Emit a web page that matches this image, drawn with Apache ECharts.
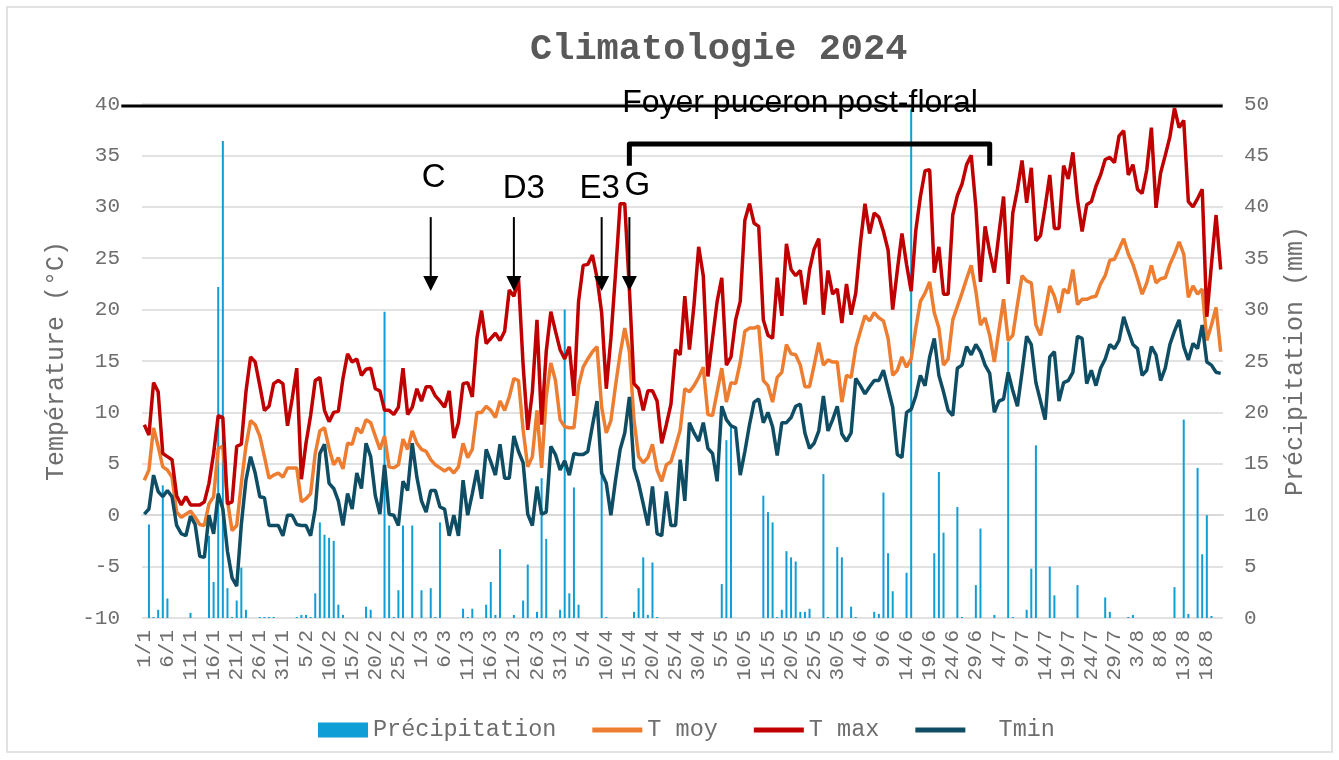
<!DOCTYPE html>
<html>
<head>
<meta charset="utf-8">
<title>Climatologie 2024</title>
<script src="https://cdn.jsdelivr.net/npm/echarts@6/dist/echarts.min.js"></script>
<style>
  html, body { margin: 0; padding: 0; background: #fff; }
  #chart { width: 1339px; height: 760px; }
</style>
</head>
<body>
<div id="chart"></div>
<script>
// jours du 1/1 au 21/8/2024
const jours = [];
for (let d = new Date(2024, 0, 1); d <= new Date(2024, 7, 21); d.setDate(d.getDate() + 1)) {
  jours.push(d.getDate() + '/' + (d.getMonth() + 1));
}

const pluie = [
  0, 9.1, 0.1, 0.8, 12.9, 1.9, 0, 0, 0, 0,
  0.5, 0, 0, 0, 8.0, 3.5, 32.2, 46.4, 2.9, 0.1,
  1.7, 4.9, 0.8, 0, 0, 0.1, 0.1, 0.1, 0.1, 0,
  0, 0, 0, 0.1, 0.3, 0.3, 0.1, 2.4, 9.3, 8.1,
  7.8, 7.5, 1.3, 0.3, 0, 0, 0, 0, 1.1, 0.8,
  0, 0, 29.8, 9.0, 0.1, 2.7, 9.0, 0, 9.0, 0,
  2.7, 0, 2.9, 0.1, 9.3, 0, 0, 0, 0, 0.9,
  0.1, 0.9, 0, 0, 1.3, 3.5, 0.3, 6.7, 0, 0,
  0.3, 0, 1.7, 5.2, 0, 0.6, 13.6, 7.7, 0, 0,
  0.8, 30.0, 2.4, 12.7, 1.3, 0, 0, 0, 0, 14.7,
  0.1, 0, 0, 0, 0, 0, 0.6, 2.9, 5.9, 0.3,
  5.4, 0.1, 0, 0, 0, 0, 0, 0, 0, 0,
  0, 0, 0, 0, 0, 3.3, 17.3, 18.7, 0, 0,
  0, 0, 0, 0, 11.9, 10.3, 9.3, 0.1, 0.8, 6.5,
  5.9, 5.5, 0.6, 0.6, 0.9, 0, 0, 14.0, 0.1, 0,
  6.9, 5.9, 0, 1.1, 0.1, 0, 0, 0, 0.6, 0.4,
  12.2, 6.3, 2.6, 0, 0, 4.4, 49.5, 0, 0, 0,
  0, 6.3, 14.2, 8.3, 0, 0, 10.8, 0.1, 0, 0,
  3.2, 8.7, 0, 0, 0.3, 0, 0, 26.9, 0.1, 0,
  0, 0.8, 4.8, 16.8, 0, 0, 5.0, 2.2, 0, 0,
  0, 0, 3.2, 0, 0, 0, 0, 0, 2.0, 0.6,
  0, 0, 0, 0.1, 0.3, 0, 0, 0, 0, 0,
  0, 0, 0, 3.0, 0, 19.3, 0.4, 0, 14.6, 6.2,
  10.0, 0.2, 0, 0
];

const tMoy = [
  3.4, 4.4, 8.5, 6.7, 4.7, 4.4, 3.7, 0.3, -0.2, 0.1,
  0.4, -0.2, -0.9, -1.0, 1.1, 1.8, 6.5, 6.7, 1.4, -1.5,
  -1.0, 3.1, 6.7, 9.2, 8.8, 7.7, 5.7, 3.6, 3.9, 4.1,
  3.7, 4.6, 4.6, 4.6, 1.3, 1.6, 2.1, 6.0, 8.2, 8.5,
  6.5, 4.9, 5.6, 4.5, 7.0, 6.9, 8.5, 8.0, 9.3, 9.0,
  7.7, 6.4, 7.7, 4.7, 4.6, 4.9, 7.4, 6.4, 8.2, 7.0,
  6.4, 6.2, 5.4, 4.9, 4.6, 4.3, 4.6, 4.1, 4.7, 7.0,
  5.6, 6.4, 10.0, 10.0, 10.6, 10.2, 9.5, 11.1, 10.2, 11.5,
  13.3, 13.1, 8.3, 4.7, 5.7, 10.2, 4.6, 11.5, 14.8, 13.1,
  9.3, 8.6, 8.5, 8.5, 12.6, 14.4, 15.2, 15.9, 16.4, 10.5,
  8.0, 9.2, 12.6, 15.7, 18.2, 15.9, 9.3, 5.7, 5.1, 5.6,
  6.9, 4.4, 3.3, 4.9, 5.2, 6.7, 8.3, 12.3, 12.0, 12.6,
  13.4, 14.4, 9.8, 9.7, 12.0, 14.3, 11.0, 12.9, 12.8, 14.9,
  17.9, 18.2, 18.2, 18.4, 13.1, 12.6, 11.0, 13.4, 13.9, 16.6,
  15.7, 15.6, 14.6, 12.5, 12.5, 14.6, 16.8, 14.6, 15.1, 14.9,
  14.9, 11.0, 13.6, 13.4, 16.3, 17.9, 19.4, 18.9, 19.7, 19.2,
  18.9, 17.2, 13.6, 14.1, 15.4, 14.4, 15.2, 18.2, 20.8, 21.6,
  22.7, 19.7, 18.2, 14.6, 15.2, 19.0, 20.3, 21.6, 23.0, 24.3,
  21.8, 18.5, 19.2, 17.5, 14.9, 18.0, 21.0, 17.0, 17.5, 20.5,
  23.3, 22.8, 22.6, 18.5, 17.5, 19.8, 22.3, 21.3, 19.7, 22.0,
  21.6, 23.9, 20.5, 21.0, 21.0, 21.2, 21.3, 22.5, 23.3, 24.8,
  24.9, 25.9, 26.9, 25.4, 24.4, 23.0, 21.5, 22.6, 24.3, 22.6,
  23.0, 23.1, 24.4, 25.4, 26.6, 25.4, 21.2, 22.3, 21.5, 22.0,
  17.0, 18.5, 20.2, 15.9
];

const tMax = [
  8.8, 7.8, 12.9, 12.0, 6.0, 5.7, 5.4, 1.9, 1.0, 1.8,
  1.0, 1.0, 1.0, 1.3, 3.1, 6.0, 9.7, 9.5, 1.1, 1.3,
  6.7, 6.9, 12.0, 15.4, 14.9, 12.6, 10.2, 10.6, 12.8, 13.1,
  12.8, 8.7, 11.3, 14.3, 3.5, 7.0, 9.7, 13.1, 13.4, 10.2,
  9.1, 10.0, 10.1, 13.3, 15.7, 14.9, 15.2, 13.6, 14.2, 14.3,
  12.3, 12.1, 10.2, 10.2, 9.8, 10.5, 14.3, 9.8, 10.5, 12.3,
  11.1, 12.5, 12.5, 11.6, 11.1, 10.5, 12.1, 7.5, 9.0, 12.8,
  12.9, 11.5, 17.2, 19.9, 16.7, 17.2, 17.7, 17.0, 17.9, 21.9,
  21.3, 23.0, 14.6, 8.3, 12.0, 19.0, 8.8, 15.9, 19.8, 17.9,
  16.1, 15.2, 16.4, 11.6, 20.8, 24.3, 24.4, 25.3, 23.1, 19.7,
  12.3, 17.2, 23.5, 30.3, 30.3, 22.0, 12.8, 12.3, 10.2, 12.1,
  12.1, 11.1, 7.0, 8.8, 10.8, 16.1, 15.6, 21.3, 16.1, 20.5,
  26.1, 23.3, 13.5, 17.2, 20.8, 23.1, 14.6, 15.4, 19.0, 20.8,
  28.7, 30.3, 28.4, 28.1, 19.0, 17.5, 17.2, 23.1, 19.4, 26.4,
  23.9, 23.3, 23.8, 20.5, 23.9, 25.9, 26.9, 19.5, 23.8, 21.5,
  22.0, 18.7, 22.5, 19.5, 21.6, 26.4, 30.3, 27.4, 29.4, 29.0,
  27.6, 25.8, 20.0, 23.8, 27.4, 24.4, 21.8, 27.7, 31.0, 33.5,
  33.6, 23.6, 26.1, 21.5, 21.5, 29.2, 31.1, 32.2, 34.1, 35.0,
  30.0, 22.7, 28.1, 25.6, 23.6, 27.4, 31.0, 22.5, 29.4, 31.7,
  34.5, 30.4, 33.8, 26.7, 27.2, 30.0, 33.1, 27.9, 27.9, 34.0,
  32.7, 35.3, 30.7, 27.6, 30.2, 30.5, 32.0, 33.1, 34.6, 34.8,
  34.3, 36.9, 37.4, 33.1, 34.1, 31.7, 31.3, 33.6, 37.7, 29.9,
  33.3, 35.0, 36.8, 39.6, 37.7, 38.4, 30.5, 30.0, 30.8, 31.7,
  19.3, 24.4, 29.2, 23.9
];

const tMin = [
  0.1, 0.6, 3.9, 2.3, 1.8, 2.4, 1.8, -1.0, -1.8, -2.0,
  -0.1, -0.9, -4.0, -4.1, 0.0, -1.8, 2.1, 0.6, -3.5, -6.1,
  -6.9, -0.9, 3.4, 5.7, 4.1, 1.8, 1.7, -1.0, -1.0, -1.0,
  -2.0, 0.0, 0.0, -0.9, -1.0, -1.0, -2.0, 0.6, 6.0, 6.9,
  3.1, 2.6, 1.4, -1.0, 2.1, 0.6, 4.1, 2.6, 7.0, 5.7,
  1.9, 0.1, 4.9, 0.1, 0.0, -1.0, 3.3, 2.4, 7.0, 3.7,
  1.4, 0.3, 2.4, 2.4, 0.8, 0.6, -2.0, 0.0, -2.0, 3.4,
  0.0, 2.1, 4.4, 1.6, 6.4, 5.2, 3.9, 6.9, 3.6, 3.6,
  7.7, 6.2, 5.1, 0.1, -1.0, 2.8, 0.1, 0.3, 6.7, 5.9,
  4.4, 5.3, 3.9, 6.0, 5.9, 5.9, 6.2, 8.7, 11.1, 4.1,
  3.1, 0.0, 3.4, 6.4, 8.0, 11.5, 4.6, 3.1, 1.1, -1.0,
  2.8, -1.8, -2.0, 2.3, -1.0, -1.0, 5.4, 1.4, 9.0, 8.0,
  7.2, 9.0, 6.5, 6.0, 3.3, 10.6, 9.3, 8.7, 8.5, 3.9,
  6.2, 8.8, 11.0, 11.3, 9.0, 10.0, 8.6, 5.8, 9.0, 9.0,
  9.5, 10.6, 10.8, 8.0, 6.5, 7.0, 8.2, 11.6, 8.2, 9.3,
  10.6, 7.9, 7.2, 8.0, 13.3, 12.6, 11.8, 12.5, 13.1, 13.1,
  14.1, 12.3, 10.5, 5.9, 5.6, 10.0, 10.3, 11.6, 13.6, 12.6,
  15.4, 17.2, 13.6, 12.0, 10.2, 9.7, 14.3, 14.6, 16.4, 15.6,
  16.6, 15.9, 14.6, 13.8, 10.0, 11.1, 11.3, 13.9, 12.1, 10.6,
  13.9, 17.4, 16.6, 12.9, 11.1, 9.3, 15.4, 15.9, 11.1, 12.9,
  13.1, 13.9, 17.4, 17.2, 12.8, 14.1, 12.6, 14.3, 15.2, 16.6,
  16.2, 17.0, 19.3, 17.9, 16.6, 16.2, 13.6, 14.1, 16.4, 15.6,
  13.1, 14.3, 16.6, 17.9, 19.0, 16.4, 15.1, 16.7, 16.2, 18.5,
  14.9, 14.6, 13.9, 13.8
];

// stades phénologiques (flèches)
const stades = ['C', 'D3', 'E3', 'G'];
const stadeJours = ['3/3', '21/3', '9/4', '15/4'];
const stadeDecalage = [3, 10, -2, 8];      // décalage du texte en px
const stadeTexteY = [32.8, 31.7, 31.7, 32.0];
const foyerDebut = '15/4';
const foyerFin = '2/7';

const police = "'Liberation Mono', 'Courier New', monospace";
const gris = '#6e6e6e';
const grille = '#d9d9d9';
const iconeLigne = 'path://M0,0H50V5H0Z';

const myChart = echarts.init(document.getElementById('chart'));

const option = {
  animation: false,
  backgroundColor: '#ffffff',
  title: {
    text: 'Climatologie 2024',
    left: 525,
    top: 26,
    textStyle: { fontFamily: police, fontSize: 37, fontWeight: 'bold', color: '#595959' },
  },
  legend: {
    left: 313,
    top: 713,
    itemWidth: 50,
    itemHeight: 15,
    itemGap: 36,
    textStyle: { fontFamily: police, fontSize: 23.5, color: gris },
    data: [
      { name: 'Précipitation', icon: 'rect' },
      { name: 'T moy', icon: iconeLigne },
      { name: 'T max', icon: iconeLigne },
      { name: '  Tmin', icon: iconeLigne },
    ],
  },
  grid: { left: 142, right: 116, top: 104, bottom: 142 },
  xAxis: {
    type: 'category',
    data: jours,
    boundaryGap: true,
    axisLine: { lineStyle: { color: grille, width: 2 } },
    axisTick: { interval: 4, length: 7, lineStyle: { color: grille, width: 2 } },
    axisLabel: { interval: 4, rotate: 90, margin: 12, fontFamily: police, fontSize: 21, color: gris },
  },
  yAxis: [
    {
      type: 'value',
      min: -10,
      max: 40,
      interval: 5,
      name: 'Température (°C)',
      nameLocation: 'middle',
      nameRotate: 90,
      nameGap: 73,
      nameTextStyle: { fontFamily: police, fontSize: 25, color: gris },
      axisLabel: { margin: 22, fontFamily: police, fontSize: 21, color: gris },
      axisLine: { show: false },
      axisTick: { show: false },
      splitLine: { lineStyle: { color: grille, width: 1.5 } },
    },
    {
      type: 'value',
      min: 0,
      max: 50,
      interval: 5,
      position: 'right',
      name: 'Précipitation (mm)',
      nameLocation: 'middle',
      nameRotate: 90,
      nameGap: 60,
      nameTextStyle: { fontFamily: police, fontSize: 25, color: gris },
      axisLabel: { margin: 21, fontFamily: police, fontSize: 21, color: gris },
      axisLine: { show: false },
      axisTick: { show: false },
      splitLine: { show: false },
    },
  ],
  series: [
    {
      name: 'Précipitation',
      type: 'bar',
      yAxisIndex: 1,
      data: pluie,
      barWidth: 2,
      itemStyle: { color: '#0f9ed5' },
    },
    {
      name: 'T moy',
      type: 'line',
      data: tMoy,
      symbol: 'none',
      lineStyle: { width: 3.5, color: '#ed7d31' },
      itemStyle: { color: '#ed7d31' },
    },
    {
      name: 'T max',
      type: 'line',
      data: tMax,
      symbol: 'none',
      lineStyle: { width: 3.5, color: '#c00000' },
      itemStyle: { color: '#c00000' },
    },
    {
      name: '  Tmin',
      type: 'line',
      data: tMin,
      symbol: 'none',
      lineStyle: { width: 3.5, color: '#0e4d64' },
      itemStyle: { color: '#0e4d64' },
    },
  ],
};

myChart.setOption(option);

// annotations
const px = (jour, val) => myChart.convertToPixel({ xAxisIndex: 0, yAxisIndex: 0 }, [jours.indexOf(jour), val]);
const police2 = "'Liberation Sans', Arial, sans-serif";
const graphics = [];

graphics.push({
  type: 'rect',
  shape: { x: 7, y: 7, width: 1325, height: 745 },
  style: { fill: 'none', stroke: grille, lineWidth: 1.5 },
  silent: true,
});

const gauche = px(jours[0], 39.8);
const droite = px(jours[jours.length - 1], 39.8);
graphics.push({
  type: 'line',
  shape: { x1: gauche[0] - 23, y1: gauche[1], x2: droite[0] + 2, y2: droite[1] },
  style: { stroke: '#000', lineWidth: 3 },
  z: 10,
});
graphics.push({
  type: 'text',
  x: 800,
  y: gauche[1] - 3,
  style: {
    text: 'Foyer puceron post-floral',
    fill: '#000',
    font: '32px ' + police2,
    align: 'center',
    verticalAlign: 'middle',
  },
  z: 10,
});

const b1 = px(foyerDebut, 34.0);
const b2 = px(foyerFin, 36.1);
graphics.push({
  type: 'polyline',
  shape: { points: [[b1[0], b1[1]], [b1[0], b2[1]], [b2[0], b2[1]], [b2[0], b1[1]]] },
  style: { stroke: '#000', lineWidth: 5, fill: 'none', lineJoin: 'round' },
  z: 10,
});

stades.forEach((s, k) => {
  const haut = px(stadeJours[k], 29.0);
  const bas = px(stadeJours[k], 21.8);
  graphics.push({
    type: 'line',
    shape: { x1: haut[0], y1: haut[1], x2: bas[0], y2: bas[1] - 12 },
    style: { stroke: '#000', lineWidth: 2 },
    z: 10,
  });
  graphics.push({
    type: 'polygon',
    shape: { points: [[bas[0] - 7.5, bas[1] - 15], [bas[0] + 7.5, bas[1] - 15], [bas[0], bas[1]]] },
    style: { fill: '#000' },
    z: 10,
  });
  const t = px(stadeJours[k], stadeTexteY[k]);
  graphics.push({
    type: 'text',
    x: t[0] + stadeDecalage[k],
    y: t[1],
    style: {
      text: s,
      fill: '#000',
      font: '33px ' + police2,
      align: 'center',
      verticalAlign: 'middle',
    },
    z: 10,
  });
});

myChart.setOption({ graphic: graphics });
</script>
</body>
</html>
